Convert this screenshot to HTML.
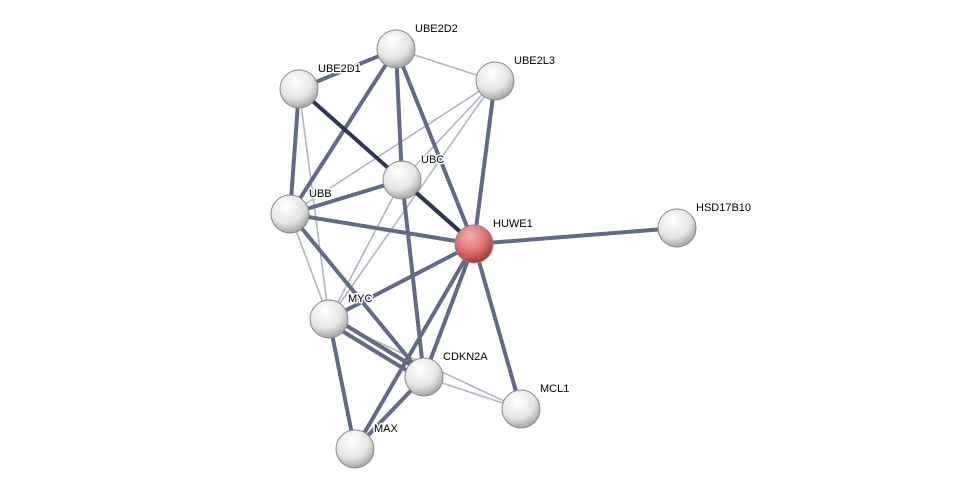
<!DOCTYPE html>
<html><head><meta charset="utf-8"><style>
html,body{margin:0;padding:0;background:#fff;width:975px;height:494px;overflow:hidden}
svg text{font-family:"Liberation Sans",Arial,sans-serif;font-size:11px;fill:#000;stroke:#fff;stroke-width:3px;paint-order:stroke;stroke-linejoin:round}
</style></head><body>
<svg width="975" height="494" viewBox="0 0 975 494" xmlns="http://www.w3.org/2000/svg">
<defs>
<radialGradient id="g" cx="40%" cy="30%" r="75%">
<stop offset="0" stop-color="#ffffff"/><stop offset="0.6" stop-color="#e4e4e4"/><stop offset="1" stop-color="#9a9a9a"/>
</radialGradient>
<radialGradient id="r" cx="40%" cy="30%" r="75%">
<stop offset="0" stop-color="#f4b0b0"/><stop offset="0.6" stop-color="#d96a6a"/><stop offset="1" stop-color="#9a2f2f"/>
</radialGradient>
</defs>
<g stroke-linecap="round">
<g stroke="#b0b4c2" stroke-width="1.6">
<line x1="396" y1="49" x2="495" y2="81"/>
<line x1="299" y1="89" x2="329" y2="319"/>
<line x1="495" y1="81" x2="290" y2="214"/>
<line x1="495" y1="81" x2="402" y2="180"/>
<line x1="495" y1="81" x2="329" y2="319"/>
<line x1="402" y1="180" x2="329" y2="319"/>
<line x1="290" y1="214" x2="329" y2="319"/>
<line x1="329" y1="319" x2="521" y2="409"/>
<line x1="424" y1="377" x2="521" y2="409"/>
</g>
<g stroke="#636b84" stroke-width="4">
<line x1="299" y1="89" x2="396" y2="49"/>
<line x1="396" y1="49" x2="402" y2="180"/>
<line x1="396" y1="49" x2="474" y2="244"/>
<line x1="396" y1="49" x2="290" y2="214"/>
<line x1="299" y1="89" x2="290" y2="214"/>
<line x1="495" y1="81" x2="474" y2="244"/>
<line x1="402" y1="180" x2="290" y2="214"/>
<line x1="402" y1="180" x2="424" y2="377"/>
<line x1="290" y1="214" x2="474" y2="244"/>
<line x1="290" y1="214" x2="424" y2="377"/>
<line x1="474" y1="244" x2="677" y2="228"/>
<line x1="474" y1="244" x2="329" y2="319"/>
<line x1="474" y1="244" x2="424" y2="377"/>
<line x1="474" y1="244" x2="521" y2="409"/>
<line x1="474" y1="244" x2="355" y2="449"/>
<line x1="329" y1="315" x2="424" y2="373"/>
<line x1="329" y1="323" x2="424" y2="381"/>
<line x1="329" y1="319" x2="355" y2="449"/>
<line x1="424" y1="377" x2="355" y2="449"/>
</g>
<g stroke="#2e3650" stroke-width="4">
<line x1="299" y1="89" x2="474" y2="244"/>
<line x1="402" y1="180" x2="474" y2="244"/>
</g>
</g>
<g stroke="#888" stroke-width="1">
<circle cx="396" cy="49" r="19" fill="url(#g)"/>
<circle cx="299" cy="89" r="19" fill="url(#g)"/>
<circle cx="495" cy="81" r="19" fill="url(#g)"/>
<circle cx="402" cy="180" r="19" fill="url(#g)"/>
<circle cx="290" cy="214" r="19" fill="url(#g)"/>
<circle cx="474" cy="244" r="19" fill="url(#r)"/>
<circle cx="677" cy="228" r="19" fill="url(#g)"/>
<circle cx="329" cy="319" r="19" fill="url(#g)"/>
<circle cx="424" cy="377" r="19" fill="url(#g)"/>
<circle cx="521" cy="409" r="19" fill="url(#g)"/>
<circle cx="355" cy="449" r="19" fill="url(#g)"/>
</g>
<g>
<text x="415" y="32">UBE2D2</text>
<text x="318" y="72">UBE2D1</text>
<text x="514" y="64">UBE2L3</text>
<text x="421" y="163">UBC</text>
<text x="309" y="197">UBB</text>
<text x="493" y="227">HUWE1</text>
<text x="696" y="211">HSD17B10</text>
<text x="348" y="302">MYC</text>
<text x="443" y="360">CDKN2A</text>
<text x="540" y="392">MCL1</text>
<text x="374" y="432">MAX</text>
</g>
</svg>
</body></html>
